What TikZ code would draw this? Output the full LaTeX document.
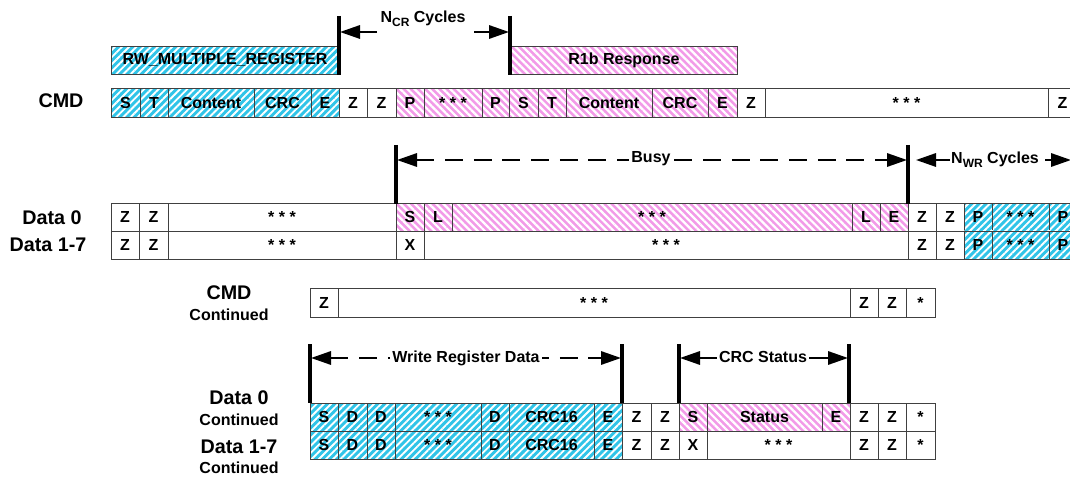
\documentclass[tikz,border=0pt]{standalone}
\usepackage{fontspec}
\setmainfont{Liberation Sans}
\usetikzlibrary{arrows.meta,patterns.meta}
\definecolor{cyanbg}{HTML}{30C4E8}
\definecolor{pinkbg}{HTML}{F29AE8}
\newcommand\cellfont{\fontsize{12}{14}\selectfont\bfseries}
\newcommand\bigfont{\fontsize{14.8}{17}\selectfont\bfseries}
\newcommand\cell[7]{\node[cellbox,#6,minimum width={(#3-#2)*0.75pt},minimum height={(#5-#4)*0.75pt}] (#1) at ({(#2+#3)/2},{(#4+#5)/2}) {#7};}
\begin{document}
\begin{tikzpicture}[x=0.75pt,y=-0.75pt,
  cellbox/.style={draw=black!75,line width=0.6pt,inner sep=0pt,outer sep=0pt,font=\cellfont},
  wc/.style={fill=white},
  cy/.style={preaction={fill=cyanbg},pattern={Lines[angle=45,distance=3.8pt,line width=1.4pt]},pattern color=white},
  pk/.style={preaction={fill=pinkbg},pattern={Lines[angle=-45,distance=3.8pt,line width=1.7pt]},pattern color=white},
  rowlabel/.style={font=\bigfont,inner sep=0pt},
  contlabel/.style={font=\cellfont,inner sep=0pt},
  marker/.style={line width=2.3pt},
  arr/.style={-{Triangle[length=15pt,width=10pt]},line width=1.6pt},
  darr/.style={{Triangle[length=15pt,width=10pt]}-{Triangle[length=15pt,width=10pt]},line width=1.6pt},
  dsh/.style={dash pattern=on 13.5pt off 8pt},
  lab/.style={font=\cellfont,fill=white,inner sep=1.5pt}]
\clip (0,0) rectangle (1070,477);
\fill[white] (0,0) rectangle (1070,477);
% ---- top command boxes
\cell{rw}{111}{339}{46}{74}{cy}{RW\_MULTIPLE\_REGISTER}
\cell{r1b}{511}{737}{46}{74}{pk}{R1b Response}
% ---- CMD row
\node[rowlabel] (lcmd) at (61,101) {CMD};
\cell{c1}{111}{140}{88}{117}{cy}{S}
\cell{c2}{140}{168}{88}{117}{cy}{T}
\cell{c3}{168}{254}{88}{117}{cy}{Content}
\cell{c4}{254}{311}{88}{117}{cy}{CRC}
\cell{c5}{311}{339}{88}{117}{cy}{E}
\cell{c6}{339}{367}{88}{117}{wc}{Z}
\cell{c7}{367}{396}{88}{117}{wc}{Z}
\cell{c8}{396}{424}{88}{117}{pk}{P}
\cell{c9}{424}{482}{88}{117}{pk}{* * *}
\cell{c10}{482}{509}{88}{117}{pk}{P}
\cell{c11}{509}{538}{88}{117}{pk}{S}
\cell{c12}{538}{566}{88}{117}{pk}{T}
\cell{c13}{566}{652}{88}{117}{pk}{Content}
\cell{c14}{652}{708}{88}{117}{pk}{CRC}
\cell{c15}{708}{737}{88}{117}{pk}{E}
\cell{c16}{737}{765}{88}{117}{wc}{Z}
\cell{c17}{765}{1048}{88}{117}{wc}{* * *}
\cell{c18}{1048}{1077}{88}{117}{wc}{Z}
% ---- Data 0 row
\node[rowlabel] (ld0) at (52,218) {Data 0};
\cell{d1}{111}{139}{203}{231}{wc}{Z}
\cell{d2}{139}{168}{203}{231}{wc}{Z}
\cell{d3}{168}{396}{203}{231}{wc}{* * *}
\cell{d4}{396}{424}{203}{231}{pk}{S}
\cell{d5}{424}{452}{203}{231}{pk}{L}
\cell{d6}{452}{852}{203}{231}{pk}{* * *}
\cell{d7}{852}{880}{203}{231}{pk}{L}
\cell{d8}{880}{908}{203}{231}{pk}{E}
\cell{d9}{908}{936}{203}{231}{wc}{Z}
\cell{d10}{936}{964}{203}{231}{wc}{Z}
\cell{d11}{964}{992}{203}{231}{cy}{P}
\cell{d12}{992}{1049}{203}{231}{cy}{* * *}
\cell{d13}{1049}{1077}{203}{231}{cy}{P}
% ---- Data 1-7 row
\node[rowlabel] (ld1) at (48,245) {Data 1-7};
\cell{e1}{111}{139}{231}{259}{wc}{Z}
\cell{e2}{139}{168}{231}{259}{wc}{Z}
\cell{e3}{168}{396}{231}{259}{wc}{* * *}
\cell{e4}{396}{424}{231}{259}{wc}{X}
\cell{e5}{424}{908}{231}{259}{wc}{* * *}
\cell{e6}{908}{936}{231}{259}{wc}{Z}
\cell{e7}{936}{964}{231}{259}{wc}{Z}
\cell{e8}{964}{992}{231}{259}{cy}{P}
\cell{e9}{992}{1049}{231}{259}{cy}{* * *}
\cell{e10}{1049}{1077}{231}{259}{cy}{P}
% ---- CMD continued
\node[rowlabel] (lcmdc) at (229,293) {CMD};
\node[contlabel] (lcmdc2) at (229,315) {Continued};
\cell{f1}{310}{338}{288}{317}{wc}{Z}
\cell{f2}{338}{850}{288}{317}{wc}{* * *}
\cell{f3}{850}{878}{288}{317}{wc}{Z}
\cell{f4}{878}{906}{288}{317}{wc}{Z}
\cell{f5}{906}{935}{288}{317}{wc}{*}
% ---- Data 0 continued
\node[rowlabel] (ld0c) at (239,398) {Data 0};
\node[contlabel] (ld0c2) at (239,420) {Continued};
\cell{g1}{310}{338}{403}{431}{cy}{S}
\cell{g2}{338}{367}{403}{431}{cy}{D}
\cell{g3}{367}{395}{403}{431}{cy}{D}
\cell{g4}{395}{481}{403}{431}{cy}{* * *}
\cell{g5}{481}{509}{403}{431}{cy}{D}
\cell{g6}{509}{594}{403}{431}{cy}{CRC16}
\cell{g7}{594}{622}{403}{431}{cy}{E}
\cell{g8}{622}{651}{403}{431}{wc}{Z}
\cell{g9}{651}{679}{403}{431}{wc}{Z}
\cell{g10}{679}{707}{403}{431}{pk}{S}
\cell{g11}{707}{822}{403}{431}{pk}{Status}
\cell{g12}{822}{850}{403}{431}{pk}{E}
\cell{g13}{850}{878}{403}{431}{wc}{Z}
\cell{g14}{878}{906}{403}{431}{wc}{Z}
\cell{g15}{906}{935}{403}{431}{wc}{*}
% ---- Data 1-7 continued
\node[rowlabel] (ld1c) at (239,447) {Data 1-7};
\node[contlabel] (ld1c2) at (239,468) {Continued};
\cell{h1}{310}{338}{431}{459}{cy}{S}
\cell{h2}{338}{367}{431}{459}{cy}{D}
\cell{h3}{367}{395}{431}{459}{cy}{D}
\cell{h4}{395}{481}{431}{459}{cy}{* * *}
\cell{h5}{481}{509}{431}{459}{cy}{D}
\cell{h6}{509}{594}{431}{459}{cy}{CRC16}
\cell{h7}{594}{622}{431}{459}{cy}{E}
\cell{h8}{622}{651}{431}{459}{wc}{Z}
\cell{h9}{651}{679}{431}{459}{wc}{Z}
\cell{h10}{679}{707}{431}{459}{wc}{X}
\cell{h11}{707}{850}{431}{459}{wc}{* * *}
\cell{h12}{850}{878}{431}{459}{wc}{Z}
\cell{h13}{878}{906}{431}{459}{wc}{Z}
\cell{h14}{906}{935}{431}{459}{wc}{*}
% ---- timing markers
\coordinate (ncrA1) at (339,16); \coordinate (ncrA2) at (339,75);
\coordinate (ncrB1) at (510,16); \coordinate (ncrB2) at (510,75);
\draw[marker] (ncrA1) -- (ncrA2);
\draw[marker] (ncrB1) -- (ncrB2);
\coordinate (ncrL0) at (377,32); \coordinate (ncrL1) at (340,32);
\coordinate (ncrR0) at (474,32); \coordinate (ncrR1) at (509,32);
\draw[arr] (ncrL0) -- (ncrL1);
\draw[arr] (ncrR0) -- (ncrR1);
\node[font=\cellfont,inner sep=0pt] (ncrlab) at (423,19) {N\raisebox{-0.45ex}{\fontsize{9}{10}\selectfont CR} Cycles};
%
\coordinate (busyA1) at (396,145); \coordinate (busyA2) at (396,204);
\coordinate (busyB1) at (908,145); \coordinate (busyB2) at (908,204);
\draw[marker] (busyA1) -- (busyA2);
\draw[marker] (busyB1) -- (busyB2);
\coordinate (busyL) at (397,160); \coordinate (busyR) at (907,160);
\draw[darr,dsh] (busyL) -- (busyR);
\node[lab] (busylab) at (651,159) {Busy};
%
\coordinate (nwrL0) at (950,160); \coordinate (nwrL1) at (916,160);
\coordinate (nwrR0) at (1045,160); \coordinate (nwrR1) at (1071,160);
\draw[arr] (nwrL0) -- (nwrL1);
\draw[arr] (nwrR0) -- (nwrR1);
\node[font=\cellfont,inner sep=0pt] (nwrlab) at (995,160) {N\raisebox{-0.45ex}{\fontsize{9}{10}\selectfont WR} Cycles};
%
\coordinate (wrA1) at (310,344); \coordinate (wrA2) at (310,403);
\coordinate (wrB1) at (622,344); \coordinate (wrB2) at (622,403);
\draw[marker] (wrA1) -- (wrA2);
\draw[marker] (wrB1) -- (wrB2);
\coordinate (wrL) at (311,358); \coordinate (wrR) at (621,358);
\draw[darr,dsh] (wrL) -- (wrR);
\node[lab] (wrlab) at (466,358) {Write Register Data};
%
\coordinate (csA1) at (679,344); \coordinate (csA2) at (679,403);
\coordinate (csB1) at (849,344); \coordinate (csB2) at (849,403);
\draw[marker] (csA1) -- (csA2);
\draw[marker] (csB1) -- (csB2);
\coordinate (csL) at (680,358); \coordinate (csR) at (848,358);
\draw[darr] (csL) -- (csR);
\node[lab] (cslab) at (763,357) {CRC Status};
\end{tikzpicture}
\end{document}
